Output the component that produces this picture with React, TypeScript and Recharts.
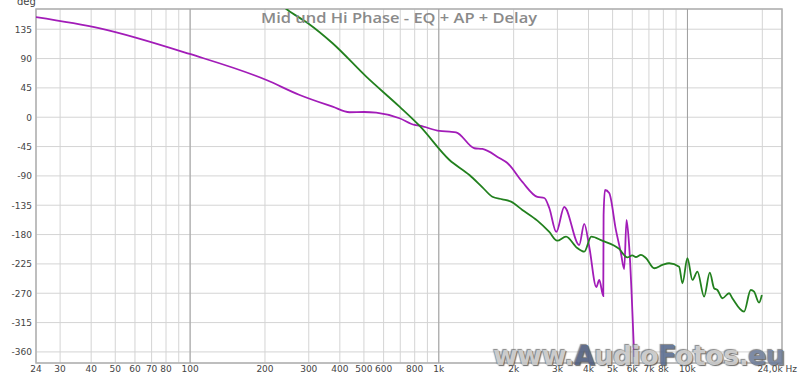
import React from "react";
import {
  LineChart,
  Line,
  XAxis,
  YAxis,
  CartesianGrid,
  ReferenceLine,
  ReferenceArea,
} from "recharts";

const purpleFreq = [24, 43.4, 99.7, 202.7, 275.8, 374, 437.8, 500, 560, 695, 799, 836, 1006, 1104, 1174, 1391, 1498, 1752, 1887, 2168, 2491, 2657, 2782, 2969, 3195, 3671, 3845, 4029, 4300, 4421, 4586, 4600, 4659, 4846, 5155, 5400, 5566, 5689, 5832, 6106];
const purpleDeg = [153.7, 136.4, 97, 57.1, 34.1, 16.2, 7.6, 8.0, 7.0, -1.6, -11.9, -13, -21.1, -22.2, -23.1, -47.6, -48.7, -62.5, -70.2, -99.3, -122.3, -123.9, -139.2, -176, -137.7, -196, -163.7, -199, -260.4, -249.6, -274.2, -150, -111.6, -116.2, -172.9, -208.2, -232.8, -157.6, -199, -367.7];

const greenFreq = [240, 246.8, 297.8, 374, 510.8, 695, 836, 1104, 1328, 1498, 1642, 1801, 1952, 2168, 2491, 2782, 2993, 3248, 3604, 3845, 4104, 4543, 5314, 5724, 6000, 6204, 6500, 6806, 7349, 7932, 8441, 9258, 9547, 9998, 10471, 10966, 11667, 12298, 12800, 13195, 13818, 14703, 15154, 16884, 17966, 18528, 19402, 19917];
const greenDeg = [168, 164.5, 144.1, 113.4, 62.2, 16.2, -13, -65.6, -88.6, -107.5, -121.9, -125.9, -129.5, -142.3, -158.7, -176, -189.4, -183.2, -200.6, -206.2, -183.2, -189.4, -202, -215, -212, -214.4, -211, -216, -231.7, -226.6, -224, -229.2, -254.7, -216.3, -249.6, -236.9, -275.2, -238.4, -262.4, -265, -277.7, -270, -277.7, -298.3, -265, -267.6, -284.4, -272.6];

const xGridTicks = [24, 30, 40, 50, 60, 70, 80, 90, 100, 200, 300, 400, 500, 600, 700, 800, 900, 1000, 2000, 3000, 4000, 5000, 6000, 7000, 8000, 9000, 10000, 20000, 24000];
const xLabels: Record<number, string> = {
  24: "24", 30: "30", 40: "40", 50: "50", 60: "60", 70: "70", 80: "80",
  100: "100", 200: "200", 300: "300", 400: "400", 500: "500", 600: "600", 800: "800",
  1000: "1k", 2000: "2k", 3000: "3k", 4000: "4k", 5000: "5k", 6000: "6k", 7000: "7k", 8000: "8k",
  10000: "10k", 24000: "24,0k Hz",
};
const decadeLines = [100, 1000, 10000];
const yTicks = [-360, -315, -270, -225, -180, -135, -90, -45, 0, 45, 90, 135];

const purple = purpleFreq.map((f, i) => ({ f, deg: purpleDeg[i] }));
const green = greenFreq.map((f, i) => ({ f, deg: greenDeg[i] }));

const XTick = (props: any) => {
  const { x, payload } = props;
  const label = xLabels[payload.value];
  if (!label) return null;
  const isLast = payload.value === 24000;
  return (
    <text
      x={isLast ? x + 15 : x}
      y={372}
      textAnchor={isLast ? "end" : "middle"}
      fontSize={9}
      fill="#444"
      fontFamily="DejaVu Sans, sans-serif"
    >
      {label}
    </text>
  );
};

const YTick = (props: any) => {
  const { y, payload } = props;
  return (
    <text x={32} y={y + 3.5} textAnchor="end" fontSize={9} fill="#444" fontFamily="DejaVu Sans, sans-serif">
      {payload.value}
    </text>
  );
};

export default function App() {
  return (
    <div style={{ position: "absolute", left: 0, top: 0, width: 800, height: 377, background: "#fff", overflow: "hidden" }}>
      <LineChart width={800} height={377} margin={{ top: 9, right: 18, bottom: 0, left: 0 }}>
        <CartesianGrid stroke="#d4d4d4" strokeWidth={1} />
        <XAxis
          dataKey="f"
          type="number"
          scale="log"
          domain={[24, 24000]}
          allowDataOverflow
          ticks={xGridTicks}
          tick={<XTick />}
          tickLine={false}
          axisLine={false}
          height={14}
          interval={0}
        />
        <YAxis
          type="number"
          domain={[-377, 166]}
          allowDataOverflow
          ticks={yTicks}
          tick={<YTick />}
          tickLine={false}
          axisLine={false}
          width={36}
          interval={0}
        />
        {decadeLines.map((v) => (
          <ReferenceLine key={v} x={v} stroke="#a0a0a0" strokeWidth={1} />
        ))}
        <ReferenceArea x1={24} x2={24000} y1={-377} y2={166} fill="none" stroke="#b0b0b0" strokeWidth={1.5} />
        <Line data={purple} dataKey="deg" type="monotone" stroke="#a21cb8" strokeWidth={1.8} dot={false} isAnimationActive={false} />
        <Line data={green} dataKey="deg" type="monotone" stroke="#22801e" strokeWidth={1.8} dot={false} isAnimationActive={false} />
      </LineChart>
      <div style={{ position: "absolute", left: 17, top: -4, fontSize: 10, color: "#444", fontFamily: "DejaVu Sans, sans-serif" }}>deg</div>
      <svg width={800} height={30} style={{ position: "absolute", left: 0, top: 0 }}>
        <text x={261} y={22.5} textLength={276} lengthAdjust="spacingAndGlyphs" fontSize={15} fontWeight={600} fill="#8a8a8a" fontFamily="'Open Sans', sans-serif">
          Mid und Hi Phase - EQ + AP + Delay
        </text>
      </svg>
      <div style={{ position: "absolute", left: 493, top: 339, fontSize: 27, fontWeight: 700, fontFamily: "'DejaVu Sans', sans-serif", letterSpacing: -0.6, opacity: 0.88, textShadow: "1px 1px 1px #555, -1px -1px 1px #777", whiteSpace: "nowrap", lineHeight: "34px" }}>
        <span style={{ color: "#c6c6c6" }}>www.</span>
        <span style={{ color: "#4c5b7c" }}>A</span>
        <span style={{ color: "#c6c6c6" }}>udio</span>
        <span style={{ color: "#56698d" }}>F</span>
        <span style={{ color: "#c6c6c6" }}>otos</span>
        <span style={{ color: "#c6c6c6" }}>.</span>
        <span style={{ color: "#6d7c98" }}>eu</span>
      </div>
    </div>
  );
}
